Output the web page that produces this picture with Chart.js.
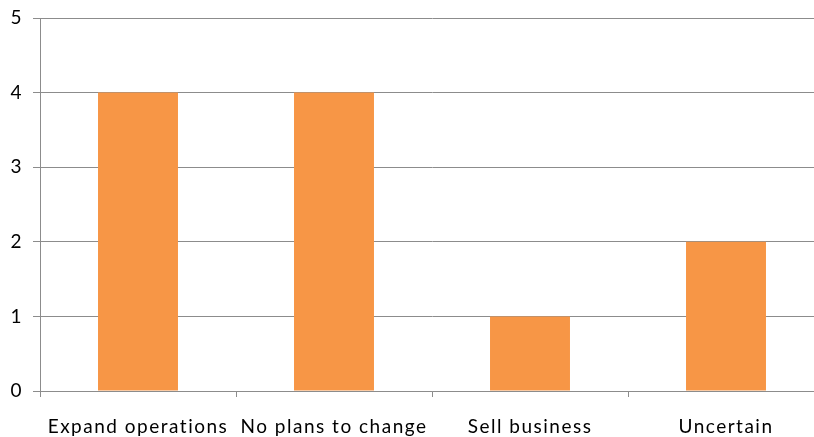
<!DOCTYPE html>
<html>
<head>
<meta charset="utf-8">
<script src="https://cdn.jsdelivr.net/npm/chart.js@4/dist/chart.umd.min.js"></script>
<style>
  html, body { margin: 0; padding: 0; background: #fff; overflow: hidden; }
  #wrap { width: 840px; height: 437px; }
</style>
</head>
<body>
<div id="wrap"><canvas id="c" width="840" height="437"></canvas></div>
<script>
// Survey responses: future plans for the business
const categories = ["Expand operations", "No plans to change", "Sell business", "Uncertain"];
const responses = [4, 4, 1, 2];
const yTicks = [0, 1, 2, 3, 4, 5];

const axisGray = "#8c8c8c";
const fontFamily = "Lato, 'Liberation Sans', sans-serif";

// Slightly open letter spacing for all axis text
const spacedText = {
  id: "spacedText",
  beforeDraw(chart) { chart.ctx.letterSpacing = "1.5px"; }
};

new Chart(document.getElementById("c"), {
  type: "bar",
  data: {
    labels: categories,
    datasets: [{
      data: responses,
      backgroundColor: "#F79646",
      borderWidth: 0,
      categoryPercentage: 1,
      barPercentage: 0.408
    }]
  },
  plugins: [spacedText],
  options: {
    responsive: false,
    animation: false,
    events: [],
    layout: { padding: { top: 18, right: 16, left: 0, bottom: 0 } },
    plugins: { legend: { display: false }, tooltip: { enabled: false } },
    scales: {
      x: {
        grid: {
          drawOnChartArea: false,
          drawTicks: true,
          tickLength: 6,
          color: axisGray,
          offset: true
        },
        border: { color: axisGray, width: 1 },
        ticks: {
          color: "#000",
          font: { family: fontFamily, size: 19 },
          padding: 18,
          maxRotation: 0,
          autoSkip: false
        },
        afterFit: (s) => { s.height = 46; s.paddingLeft = 0; s.paddingRight = 0; }
      },
      y: {
        min: 0,
        max: 5,
        afterBuildTicks: (s) => { s.ticks = yTicks.map(v => ({ value: v })); },
        grid: { color: axisGray, tickLength: 7, drawTicks: true },
        border: { color: axisGray, width: 1 },
        ticks: {
          color: "#000",
          font: { family: fontFamily, size: 19 },
          padding: 10
        },
        afterFit: (s) => { s.width = 40; s.paddingTop = 0; s.paddingBottom = 0; }
      }
    }
  }
});
</script>
</body>
</html>
